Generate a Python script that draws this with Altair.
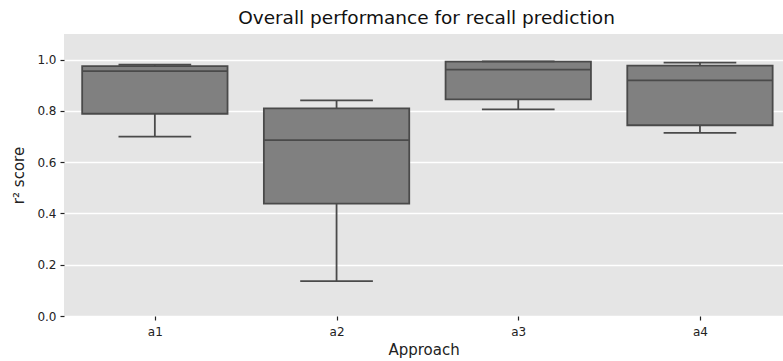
import altair as alt
import pandas as pd

categories = ["a1", "a2", "a3", "a4"]
lower_whisker = [0.700, 0.136, 0.806, 0.714]
q1 = [0.789, 0.438, 0.845, 0.744]
median = [0.955, 0.686, 0.961, 0.919]
q3 = [0.975, 0.810, 0.992, 0.977]
upper_whisker = [0.980, 0.841, 0.993, 0.988]

df = pd.DataFrame({
    "cat": categories,
    "idx": list(range(len(categories))),
    "lo": lower_whisker,
    "q1": q1,
    "med": median,
    "q3": q3,
    "hi": upper_whisker,
})

FONT = "DejaVu Sans"
EDGE = "#4a4a4a"
FILL = "#808080"

label_expr = "[" + ",".join(f"'{c}'" for c in categories) + "][datum.value]"

xscale = alt.Scale(domain=[-0.5, 3.457], nice=False, zero=False)
yscale = alt.Scale(domain=[0, 1.1], nice=False)

xaxis = alt.Axis(
    title="Approach", values=[0, 1, 2, 3], labelExpr=label_expr,
    grid=False, domain=False, tickSize=4, tickColor="#222222", tickWidth=1.2,
    labelFontSize=12, labelColor="#222222", labelPadding=6,
    titleFontSize=15, titleFontWeight="normal", titleColor="#222222", titlePadding=5,
    labelFont=FONT, titleFont=FONT,
)
yaxis = alt.Axis(
    title="r² score", values=[0, 0.2, 0.4, 0.6, 0.8, 1.0], format=".1f",
    grid=True, gridColor="white", gridWidth=1.5, domain=False,
    tickSize=4, tickColor="#222222", tickWidth=1.2,
    labelFontSize=12, labelColor="#222222", labelPadding=4,
    titleFontSize=15, titleFontWeight="normal", titleColor="#222222", titlePadding=10,
    labelFont=FONT, titleFont=FONT,
)

base = alt.Chart(df).transform_calculate(
    bx=alt.datum.idx - 0.4,
    bx2=alt.datum.idx + 0.4,
    cx=alt.datum.idx - 0.2,
    cx2=alt.datum.idx + 0.2,
)

boxes = base.mark_bar(color=FILL, stroke=EDGE, strokeWidth=1.8).encode(
    x=alt.X("bx:Q", scale=xscale, axis=xaxis),
    x2="bx2:Q",
    y=alt.Y("q1:Q", scale=yscale, axis=yaxis),
    y2="q3:Q",
)

upper = base.mark_rule(color=EDGE, strokeWidth=1.8).encode(
    x=alt.X("idx:Q", scale=xscale), y=alt.Y("q3:Q", scale=yscale), y2="hi:Q"
)
lower = base.mark_rule(color=EDGE, strokeWidth=1.8).encode(
    x=alt.X("idx:Q", scale=xscale), y=alt.Y("lo:Q", scale=yscale), y2="q1:Q"
)
cap_hi = base.mark_rule(color=EDGE, strokeWidth=1.8).encode(
    x=alt.X("cx:Q", scale=xscale), x2="cx2:Q", y=alt.Y("hi:Q", scale=yscale)
)
cap_lo = base.mark_rule(color=EDGE, strokeWidth=1.8).encode(
    x=alt.X("cx:Q", scale=xscale), x2="cx2:Q", y=alt.Y("lo:Q", scale=yscale)
)
med = base.mark_rule(color=EDGE, strokeWidth=1.8).encode(
    x=alt.X("bx:Q", scale=xscale), x2="bx2:Q", y=alt.Y("med:Q", scale=yscale)
)

chart = alt.layer(lower, upper, boxes, cap_hi, cap_lo, med).properties(
    width=719,
    height=282,
    background="white",
    title=alt.TitleParams(
        "Overall performance for recall prediction",
        font=FONT, fontSize=18.5, fontWeight="normal", color="#111111",
        anchor="middle", dx=3, offset=7,
    ),
    autosize=alt.AutoSizeParams(type="none"),
    padding={"left": 64, "top": 34, "right": 0, "bottom": 45},
).configure_view(
    fill="#e5e5e5", strokeWidth=0
)

chart.save("out.html", embed_options={"renderer": "svg", "actions": False})
